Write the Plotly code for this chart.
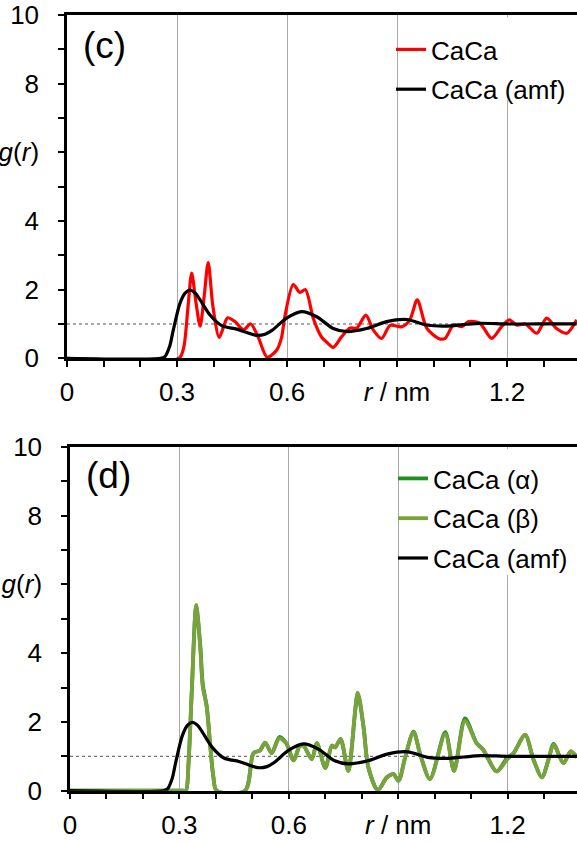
import plotly.graph_objects as go

# ---------------- data ----------------
# panel (c)
r_caca = [0.0, 0.305, 0.318, 0.330, 0.340, 0.352, 0.363, 0.374, 0.385, 0.398, 0.415, 0.428, 0.438,
          0.458, 0.481, 0.501, 0.522, 0.546, 0.572, 0.585, 0.594, 0.617, 0.635, 0.650, 0.672, 0.694,
          0.710, 0.726, 0.749, 0.772, 0.790, 0.815, 0.835, 0.858, 0.881, 0.913, 0.935, 0.955, 0.981,
          1.013, 1.031, 1.054, 1.077, 1.095, 1.126, 1.158, 1.185, 1.206, 1.226, 1.250, 1.281, 1.308,
          1.335, 1.363, 1.39]
g_caca = [0.0, 0.0, 0.3, 1.5, 2.48, 1.6, 0.94, 1.8, 2.79, 1.5, 0.61, 0.95, 1.18,
          1.07, 0.83, 1.0, 0.6, 0.03, 0.24, 0.6, 1.21, 2.15, 1.92, 2.0, 1.15, 0.62,
          0.45, 0.32, 0.63, 0.88, 0.88, 1.26, 0.83, 0.58, 0.96, 0.92, 1.12, 1.70, 0.88,
          0.58, 0.58, 0.97, 0.92, 1.07, 1.02, 0.58, 0.92, 1.12, 0.97, 1.0, 0.73, 1.17,
          0.87, 0.73, 1.12]

r_amf = [0.0, 0.255, 0.267, 0.280, 0.290, 0.308, 0.322, 0.335, 0.350, 0.363, 0.390, 0.422, 0.463,
         0.490, 0.515, 0.540, 0.560, 0.599, 0.640, 0.681, 0.726, 0.763, 0.817, 0.872, 0.926, 0.981,
         1.035, 1.080, 1.126, 1.20, 1.28, 1.39]
g_amf = [0.0, 0.0, 0.05, 0.35, 0.83, 1.60, 1.90, 1.99, 1.90, 1.70, 1.26, 0.95, 0.85,
         0.75, 0.67, 0.70, 0.82, 1.17, 1.36, 1.21, 0.87, 0.78, 0.87, 1.07, 1.13, 0.97,
         0.94, 0.98, 1.02, 1.0, 1.0, 1.0]

# panel (d)
r_beta = [0.0, 0.310, 0.318, 0.325, 0.334, 0.346, 0.357, 0.364, 0.375, 0.384, 0.393, 0.402, 0.480,
          0.503, 0.521, 0.535, 0.553, 0.574, 0.593, 0.613, 0.630, 0.640, 0.663, 0.677, 0.700, 0.718,
          0.727, 0.742, 0.763, 0.789, 0.805, 0.818, 0.844, 0.869, 0.887, 0.901, 0.919, 0.942, 0.960,
          0.987, 1.029, 1.053, 1.083, 1.115, 1.133, 1.170, 1.198, 1.216, 1.248, 1.271, 1.294, 1.312,
          1.326, 1.353, 1.373, 1.39]
g_beta = [0.0, 0.0, 0.0, 0.8, 2.93, 5.40, 4.19, 3.02, 2.44, 1.38, 0.41, 0.0, 0.0,
          1.09, 1.17, 1.40, 1.09, 1.52, 1.38, 0.88, 1.30, 1.31, 0.92, 1.38, 0.66, 1.31,
          1.26, 1.50, 0.58, 2.85, 1.84, 0.68, 0.02, 0.39, 0.48, 0.29, 0.97, 1.70, 1.07,
          0.34, 1.65, 0.58, 2.03, 1.38, 1.19, 0.56, 0.90, 1.09, 1.62, 0.90, 0.39, 0.90,
          1.34, 0.80, 1.14, 0.97]
g_alpha = [0.0, 0.0, 0.0, 0.8, 2.90, 5.35, 4.25, 3.10, 2.44, 1.38, 0.41, 0.0, 0.0,
           1.09, 1.17, 1.40, 1.09, 1.56, 1.38, 0.88, 1.30, 1.31, 0.92, 1.38, 0.66, 1.31,
           1.26, 1.50, 0.58, 2.80, 1.84, 0.68, 0.02, 0.39, 0.48, 0.29, 0.97, 1.72, 1.07,
           0.34, 1.70, 0.58, 2.10, 1.38, 1.19, 0.56, 0.95, 1.09, 1.62, 0.90, 0.39, 0.90,
           1.36, 0.80, 1.14, 0.97]

x_tickvals = [0, 0.3, 0.6, 0.9, 1.2]
x_ticktext = ["0", "0.3", "0.6", "<i>r</i> / nm", "1.2"]
y_tickvals = [0, 2, 4, 6, 8, 10]
y_ticktext = ["0", "2", "4", "<i>g</i>(<i>r</i>)", "8", "10"]

# ---------------- layout geometry (pixels) ----------------
W, H = 577, 843
c_left, c_top, c_bot = 67, 15, 358.3
d_left, d_top, d_bot = 70, 446.7, 790.7
px_per_nm_c = 366.7
px_per_nm_d = 364.7

RED = "#FF0000"
BLACK = "#000000"
GA = "#1F8F1F"
GB = "#78A23C"
FONT = "Liberation Sans, Arial, sans-serif"

fig = go.Figure()

spl = dict(shape="spline", smoothing=0.8)

fig.add_trace(go.Scatter(x=r_caca, y=g_caca, mode="lines", name="CaCa",
                         line=dict(color=RED, width=3.2, **spl), xaxis="x", yaxis="y",
                         legend="legend", legendgroup="c1"))
fig.add_trace(go.Scatter(x=r_amf, y=g_amf, mode="lines", name="CaCa (amf)",
                         line=dict(color=BLACK, width=3.2, **spl), xaxis="x", yaxis="y",
                         legend="legend", legendgroup="c2"))

fig.add_trace(go.Scatter(x=r_beta, y=g_alpha, mode="lines", name="CaCa (α)",
                         line=dict(color=GA, width=3.8, **spl), xaxis="x2", yaxis="y2",
                         legend="legend2", legendgroup="d1"))
fig.add_trace(go.Scatter(x=r_beta, y=g_beta, mode="lines", name="CaCa (β)",
                         line=dict(color=GB, width=3.8, **spl), xaxis="x2", yaxis="y2",
                         legend="legend2", legendgroup="d2"))
fig.add_trace(go.Scatter(x=r_amf, y=g_amf, mode="lines", name="CaCa (amf)",
                         line=dict(color=BLACK, width=3.2, **spl), xaxis="x2", yaxis="y2",
                         legend="legend2", legendgroup="d3"))

tickfont = dict(family=FONT, size=26, color="black")


def xaxis_cfg(left, ppn, anchor):
    return dict(domain=[left / W, 1], range=[0, (W - left) / ppn], anchor=anchor,
                automargin=False,
                tickmode="array", tickvals=x_tickvals, ticktext=x_ticktext,
                ticks="outside", ticklen=6, tickwidth=2, tickcolor="black",
                showline=True, linewidth=2.5, linecolor="black", mirror=True,
                showgrid=True, gridcolor="#A8A8A8", gridwidth=1, zeroline=False,
                minor=dict(tickmode="linear", tick0=0, dtick=0.1, ticks="outside", ticklen=6,
                           tickwidth=2, tickcolor="black", showgrid=False),
                tickfont=tickfont, ticklabelstandoff=3, fixedrange=True)


def yaxis_cfg(top, bot, anchor):
    return dict(domain=[1 - bot / H, 1 - top / H], range=[0, 10], anchor=anchor,
                automargin=False,
                tickmode="array", tickvals=y_tickvals, ticktext=y_ticktext,
                ticks="outside", ticklen=6, tickwidth=2, tickcolor="black",
                showline=True, linewidth=2.5, linecolor="black", mirror=False,
                showgrid=False, zeroline=False,
                minor=dict(tickmode="linear", tick0=0, dtick=1, ticks="outside", ticklen=6,
                           tickwidth=2, tickcolor="black", showgrid=False),
                tickfont=tickfont, ticklabelstandoff=14, fixedrange=True)


legfont = dict(family=FONT, size=26, color="black")

fig.update_layout(
    width=W, height=H,
    margin=dict(l=0, r=0, t=0, b=0, pad=0, autoexpand=False),
    paper_bgcolor="white", plot_bgcolor="white",
    font=dict(family=FONT, color="black"),
    xaxis=xaxis_cfg(c_left, px_per_nm_c, "y"),
    yaxis=yaxis_cfg(c_top, c_bot, "x"),
    xaxis2=xaxis_cfg(d_left, px_per_nm_d, "y2"),
    yaxis2=yaxis_cfg(d_top, d_bot, "x2"),
    legend=dict(x=391 / W, y=1 - 26 / H, xanchor="left", yanchor="top",
                bgcolor="rgba(0,0,0,0)", borderwidth=0, font=legfont, tracegroupgap=3,
                itemwidth=30, traceorder="grouped"),
    legend2=dict(x=393 / W, y=1 - 455 / H, xanchor="left", yanchor="top",
                 bgcolor="rgba(0,0,0,0)", borderwidth=0, font=legfont, tracegroupgap=3,
                 itemwidth=30, traceorder="grouped"),
    showlegend=True,
)

# reference line g(r) = 1
for xa, ya in (("x", "y"), ("x2", "y2")):
    fig.add_shape(type="line", xref=f"{xa} domain", yref=ya, x0=0, x1=1, y0=1, y1=1,
                  line=dict(color="#505050", width=1, dash="dot"), layer="below")

# white backing behind the legends (covers the 1.2 gridline only; no data in these regions)
fig.add_shape(type="rect", xref="x domain", yref="y domain",
              x0=(401 - c_left) / (W - c_left), x1=1,
              y0=(c_bot - 100) / (c_bot - c_top), y1=1 - 2.5 / (c_bot - c_top),
              line=dict(width=0), fillcolor="white", layer="above")
fig.add_shape(type="rect", xref="x2 domain", yref="y2 domain",
              x0=(402 - d_left) / (W - d_left), x1=1,
              y0=(d_bot - 575) / (d_bot - d_top), y1=1 - 2.5 / (d_bot - d_top),
              line=dict(width=0), fillcolor="white", layer="above")

# panel labels
fig.add_annotation(text="(c)", xref="paper", yref="paper", x=81 / W, y=1 - 45 / H,
                   xanchor="left", yanchor="middle", showarrow=False,
                   font=dict(family=FONT, size=37, color="black"))
fig.add_annotation(text="(d)", xref="paper", yref="paper", x=84 / W, y=1 - 476 / H,
                   xanchor="left", yanchor="middle", showarrow=False,
                   font=dict(family=FONT, size=37, color="black"))

fig.write_html("out.html")
